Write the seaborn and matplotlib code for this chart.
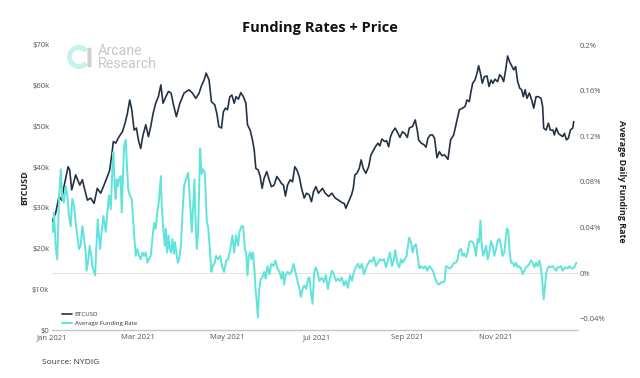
import numpy as np
import pandas as pd
import matplotlib
matplotlib.use("Agg")
import matplotlib.pyplot as plt
import matplotlib.dates as mdates
from matplotlib.patches import Arc, FancyBboxPatch
from matplotlib.lines import Line2D
import seaborn as sns

# ---------------- data ----------------
start_date = "2021-01-01"

# BTCUSD price: day offset from start_date, price in USD thousands
price_days = [
    0, 2.5, 4.8, 6.6, 8.2, 11, 12.1, 13.5, 16.2, 19,
    20.8, 21.9, 24.2, 26.5, 28.8, 31, 33.3, 35.6, 37.9, 39.5,
    40.9, 42, 43.6, 45.9, 48.2, 50, 51.6, 53.2, 54.6, 56.2,
    57.8, 59.1, 60.7, 62.3, 64.2, 66, 67.6, 69.2, 71, 72.8,
    74.5, 76, 77.9, 79.7, 81.5, 82.9, 85.1, 87.5, 90.4,
    93.8, 96.1, 98.4, 100.7, 102.3, 104.1, 105.5, 107.5, 109.1, 111.4,
    112.8, 114.2, 116, 117.3, 118.7, 120.1, 121.7, 123.1, 124.7, 126,
    127.6, 129.2, 131, 132.7, 133.8, 135.6, 137.2, 138.4, 139.5, 141.1,
    142.5, 143.8, 145.2, 147, 148.6, 150.2, 152, 153.9, 155.5, 157,
    158.4, 159.8, 161.2, 163, 164.6, 166.2, 167.6, 169.2, 170.8, 172.6,
    174.2, 176, 177.6, 179, 180.6, 182.4,
    185.1, 187, 189.3, 191.6, 193.8, 196.1, 198.4, 200, 201.1, 203,
    205, 206.2, 207.3, 208.7, 210.3, 211.6, 213, 214.8, 216.7, 218.3,
    220.1, 221.7, 223.1, 224.4, 225.8, 227.6, 229, 230.4, 231.7, 233.1,
    234.9, 236.8, 238.1, 239.9, 241.6, 243.2, 244.5, 246.8, 248.6, 250,
    250.9, 252.7, 254.6, 256, 257.3, 258.9, 260.5, 261.8, 263.5, 265.1,
    266.9, 268.7, 271, 272.8, 274.9,
    277.2, 278.8, 281, 282.7, 284, 285.6, 286.8, 287.9, 289.5, 290.9,
    292, 293.2, 294.5, 295.9, 297.7, 299.1, 300.5, 301.8, 303.2, 305,
    306.4, 307.7, 309.1, 310.5, 311.8, 313.2, 314.6, 316, 317.3, 318.7,
    320.1, 321.4, 322.6, 323.8, 325.1, 326.7, 328.3, 329.7, 331.3, 332.9,
    334.7, 335.8, 336.5, 338.2, 339.7, 341.1, 342.9, 343.8, 345.2, 346.6,
    347.9, 349.5, 350.7, 352.1, 353.4, 354.8, 356.4, 357.1,
]
price_k = [
    26.6, 28.7, 32.8, 31.9, 35.2, 40.1, 39.3, 34.4, 38.1, 35.6,
    36.9, 35.2, 31.9, 32.4, 31.1, 34.8, 33.6, 35.6, 37.7, 39.3,
    43.0, 46.3, 45.9, 47.5, 48.7, 50.8, 53.2, 56.5, 54.1, 49.1,
    49.6, 46.7, 44.6, 47.9, 50.4, 47.5, 50.0, 53.2, 55.7, 57.3,
    60.2, 55.7, 57.3, 58.6, 58.2, 55.7, 52.4, 55.7, 58.2,
    59.0, 58.2, 56.9, 58.2, 60.0, 61.4, 63.1, 61.4, 56.1, 55.3,
    53.2, 50.0, 49.6, 53.6, 54.5, 54.1, 57.3, 57.7, 55.7, 57.3,
    56.7, 58.3, 57.3, 55.7, 50.4, 49.1, 46.7, 44.2, 39.7, 39.3,
    37.7, 34.8, 37.3, 38.9, 36.9, 35.2, 35.6, 37.7, 36.9, 36.0,
    35.6, 32.9, 35.6, 36.9, 36.4, 40.1, 39.3, 37.7, 34.8, 32.4,
    33.6, 33.2, 31.5, 34.0, 35.2, 33.6,
    34.8, 33.6, 32.8, 33.6, 32.4, 31.9, 31.3, 31.1, 29.9, 31.5,
    33.2, 34.8, 38.1, 38.5, 39.7, 41.8, 39.7, 38.5, 40.1, 43.0,
    44.2, 45.2, 45.9, 45.2, 46.9, 46.3, 46.5, 45.0, 47.5, 48.7,
    49.6, 48.3, 47.3, 48.7, 48.2, 47.3, 49.6, 50.0, 51.6, 49.1,
    46.7, 45.9, 45.5, 44.9, 47.1, 47.9, 47.9, 47.1, 42.3, 43.8,
    42.8, 43.0, 41.9, 46.7, 47.9,
    51.6, 54.1, 54.5, 54.9, 56.5, 56.1, 58.6, 60.6, 61.4, 63.1,
    64.9, 63.1, 60.6, 62.2, 62.4, 59.8, 61.4, 60.6, 61.6, 61.0,
    62.7, 62.2, 61.0, 63.9, 67.3, 65.9, 64.9, 63.9, 64.7, 61.0,
    59.4, 59.0, 57.3, 59.0, 56.9, 58.2, 56.5, 54.5, 57.3, 57.3,
    56.9, 54.9, 49.6, 49.1, 50.8, 49.1, 49.1, 47.9, 49.6, 48.3,
    47.9, 47.5, 48.3, 46.7, 47.1, 49.1, 49.6, 51.2,
]

# Average daily funding rate: day offset, rate in percent
funding_days = [
    0, 0.7, 1.4, 2.5, 3.6, 4.8, 6, 7.1, 8.2, 9.4,
    10.5, 11.6, 12.8, 13.9, 15.1, 16.2, 17.3, 18.5, 19.6, 20.8,
    21.9, 23.1, 23.7, 24.9, 25.8, 26.9, 27.6, 28.8, 29.5, 30.4,
    31.3, 32.2, 32.9, 34, 35.2, 36.8, 37.9, 39, 40.2, 41.3,
    42, 42.9, 43.6, 44.3, 45.2, 45.9, 47, 47.7, 48.6, 49.3,
    50.5, 51.2, 52.1, 53.2, 54.6, 55.5, 56.4, 57.3, 58.4, 59.6,
    60.7, 61.9, 63, 64.2, 65.3, 66.4, 67.6, 68.7, 69.9, 71,
    72.1, 73.3, 74.5, 75.1, 76, 77.2, 77.9, 78.8, 79.7, 80.6,
    81.5, 82.4, 83.4, 84.2, 85.1, 86.1, 87, 88.2, 89.2, 90.4,
    91.6, 93.2, 94, 95, 95.7, 96.6, 97.5, 98.2, 99.1, 100,
    100.7, 101.4, 102.3, 103.2, 104.6, 106, 106.8, 108.2, 109.1, 110.1,
    111.4, 112.3, 113.7, 115.1, 116.4, 117.8, 119.2, 120.5, 121.9, 123.5,
    124.7, 126, 127.4, 128.3, 129.7, 130.8, 132, 132.9, 133.8, 134.7,
    135.6, 136.5, 137.5, 138.4, 139.3, 140.2, 140.9, 141.8, 142.9, 144,
    145.2, 146.3, 147.5, 148.8, 150.2, 151.6, 152.9, 154.3, 155.7, 157,
    158, 158.9, 159.8, 161.2, 162.5, 163.9, 165.3, 166.6, 168, 169.4,
    170.3, 171.5, 172.6, 174, 175.3, 176.2, 177.2, 178.3, 179.5, 180.6,
    181.7,
    182.9, 184.7, 186.1, 187.5, 188.8, 190.2, 191.6, 192.9, 194.3, 195.7,
    197, 198.4, 199.8, 201.1, 202.5, 203.9, 205.3, 206.6, 208, 209.4,
    210.8, 212.1, 213.5, 214.8, 216.2, 217.6, 219, 220.3, 221.7, 223.1,
    224.4, 225.8, 227.2, 228.6, 229.9, 231.3, 232.7, 234, 234.9, 236.3,
    237.7, 238.8, 239.9, 241.3, 242.7, 243.6, 244.5, 245.7, 246.8, 248,
    249.1, 250.2, 251.4, 252.7, 254.1, 255.5, 256.8, 258.2, 259.6, 261,
    262.3, 263.7, 265.1, 266.4, 267.8, 268.7, 269.6, 271, 272.4, 273.8,
    275.2,
    276.5, 277.6, 278.8, 279.9, 281, 282.2, 283.3, 284.5, 285.6, 286.8,
    287.9, 289, 290.2, 291.3, 292.3, 293.2, 294, 295, 295.9, 297.1,
    298.2, 299.3, 300.5, 301.6, 302.7, 303.9, 305, 306.2, 307.3, 308.4,
    309.6, 310.7, 311.4, 312.3, 313.2, 314.2, 315.3, 316.4, 317.6, 318.7,
    319.9, 321, 322.1, 323.3, 324.4, 325.6, 326.7, 327.9, 329, 330.1,
    331.3, 332.4, 333.6, 334.7, 335.6, 336.5, 337.5, 338.4, 339.2, 340.4,
    341.6, 342.7, 343.8, 345, 346.1, 347.3, 348.4, 349.5, 350.7, 351.8,
    353, 354.1, 355.3, 356.4, 357.5, 358.9,
]
funding_pct = [
    0.044, 0.036, 0.053, 0.024, 0.012, 0.065, 0.091, 0.065, 0.062, 0.076,
    0.068, 0.050, 0.041, 0.065, 0.059, 0.044, 0.033, 0.021, 0.024, 0.041,
    0.030, 0.018, 0.002, 0.012, 0.024, 0.015, 0.006, 0.001, -0.002, 0.024,
    0.047, 0.033, 0.021, 0.036, 0.050, 0.036, 0.053, 0.068, 0.056, 0.091,
    0.106, 0.076, 0.065, 0.082, 0.076, 0.082, 0.085, 0.053, 0.085, 0.111,
    0.117, 0.097, 0.074, 0.068, 0.065, 0.047, 0.030, 0.015, 0.021, 0.015,
    0.012, 0.018, 0.015, 0.018, 0.009, 0.012, 0.015, 0.030, 0.044, 0.039,
    0.053, 0.065, 0.085, 0.059, 0.041, 0.024, 0.039, 0.018, 0.033, 0.021,
    0.018, 0.030, 0.017, 0.027, 0.018, 0.009, 0.012, 0.024, 0.050, 0.076,
    0.082, 0.088, 0.071, 0.050, 0.036, 0.059, 0.082, 0.047, 0.021, 0.036,
    0.071, 0.109, 0.087, 0.091, 0.088, 0.044, 0.041, 0.018, 0.001, 0.006,
    0.009, 0.015, 0.012, 0.015, 0.006, 0.001, 0.011, 0.012, 0.020, 0.033,
    0.018, 0.033, 0.024, 0.036, 0.041, 0.041, 0.021, 0.018, -0.002, 0.015,
    0.018, 0.012, 0.018, 0.006, -0.014, -0.026, -0.039, -0.014, -0.005, -0.004,
    0.001, -0.005, 0.006, -0.001, 0.008, 0.006, 0.011, 0.004, 0.001, -0.005,
    0.001, -0.010, -0.002, 0.001, -0.001, 0.001, 0.008, 0.001, -0.007, -0.014,
    -0.021, -0.014, -0.011, -0.014, -0.005, -0.004, -0.017, -0.027, 0.001, 0.005,
    0.001,
    -0.007, -0.004, -0.008, -0.002, -0.014, -0.005, 0.002, -0.001, -0.007, -0.005,
    -0.007, -0.004, -0.011, -0.007, -0.013, -0.002, -0.007, 0.001, 0.005, 0.008,
    0.004, 0.008, -0.001, 0.004, 0.008, 0.011, 0.010, 0.014, 0.006, 0.009,
    0.012, 0.011, 0.012, 0.005, 0.011, 0.018, 0.006, 0.012, 0.020, 0.009,
    0.005, 0.012, 0.009, 0.012, 0.015, 0.024, 0.031, 0.027, 0.018, 0.024,
    0.025, 0.015, 0.004, 0.006, 0.004, 0.006, 0.002, 0.006, 0.004, 0.001,
    -0.005, -0.009, -0.010, -0.008, -0.008, -0.007, 0.006, 0.005, 0.004, 0.006,
    0.009,
    0.009, 0.012, 0.020, 0.021, 0.015, 0.017, 0.014, 0.018, 0.027, 0.028,
    0.027, 0.024, 0.015, 0.030, 0.027, 0.046, 0.027, 0.015, 0.018, 0.024,
    0.012, 0.018, 0.028, 0.024, 0.015, 0.021, 0.028, 0.030, 0.024, 0.015,
    0.018, 0.033, 0.039, 0.037, 0.018, 0.009, 0.009, 0.006, 0.009, 0.005,
    0.006, 0.004, -0.001, 0.002, 0.005, 0.006, 0.008, 0.011, 0.009, 0.005,
    0.009, 0.006, 0.011, 0.004, -0.008, -0.023, -0.010, 0.001, 0.004, 0.006,
    0.005, 0.006, 0.004, 0.002, 0.005, 0.005, 0.006, 0.002, 0.004, 0.005,
    0.004, 0.006, 0.004, 0.004, 0.005, 0.009,
]

price_ticks_k = [0, 10, 20, 30, 40, 50, 60, 70]
funding_ticks = [-0.04, 0, 0.04, 0.08, 0.12, 0.16, 0.2]
month_ticks = ["2021-01-01", "2021-03-01", "2021-05-01", "2021-07-01", "2021-09-01", "2021-11-01"]

# ---------------- build frames ----------------
base = pd.Timestamp(start_date)
price_df = pd.DataFrame({
    "date": base + pd.to_timedelta(np.array(price_days), unit="D"),
    "BTCUSD": np.array(price_k) * 1000.0,
})
fund_df = pd.DataFrame({
    "date": base + pd.to_timedelta(np.array(funding_days), unit="D"),
    "rate": funding_pct,
})

# ---------------- style ----------------
sns.set_theme(style="white")
plt.rcParams["font.family"] = ["Open Sans", "DejaVu Sans"]

PRICE_C = "#253246"
FUND_C = "#5fe3da"
TICK_C = "#555555"

fig = plt.figure(figsize=(6.4, 3.78), dpi=100)
ax = fig.add_axes([52 / 640, 1 - 330 / 378, 526 / 640, 285 / 378])
ax2 = ax.twinx()

sns.lineplot(data=price_df, x="date", y="BTCUSD", ax=ax, color=PRICE_C,
             linewidth=1.2, sort=False, legend=False)
ax2.axhline(0, color="#e3e3e3", linewidth=0.8, zorder=0)
sns.lineplot(data=fund_df, x="date", y="rate", ax=ax2, color=FUND_C,
             linewidth=1.4, sort=False, legend=False)

# left axis
ax.set_ylim(0, 70000)
ax.set_yticks([v * 1000 for v in price_ticks_k])
ax.set_yticklabels(["$0"] + [f"${v}k" for v in price_ticks_k[1:]])
# right axis
ax2.set_ylim(-0.05, 0.2)
ax2.set_yticks(funding_ticks)
ax2.set_yticklabels([("\u22120.04%" if v < 0 else ("0%" if v == 0 else f"{v:g}%")) for v in funding_ticks])

# x axis
ax.set_xlim(base, base + pd.Timedelta(days=360))
ax.set_xticks(pd.to_datetime(month_ticks))
ax.xaxis.set_major_formatter(mdates.DateFormatter("%b %Y"))
ax.set_xlabel("")

for a in (ax, ax2):
    a.tick_params(axis="both", length=0, labelsize=5.5, colors=TICK_C, pad=2)
    for s in a.spines.values():
        s.set_visible(False)
ax.spines["bottom"].set_visible(True)
ax.spines["bottom"].set_color("#c6c6c6")
ax.spines["bottom"].set_linewidth(1.0)
ax.tick_params(axis="x", pad=3)
ax2.tick_params(axis="y", pad=1)

ax.set_ylabel("BTCUSD", fontsize=6.5, fontweight="bold", color="#222222")
ax.yaxis.set_label_coords(-0.051, 0.5)
ax.yaxis.label.set_verticalalignment("center")
ax2.set_ylabel("Average Daily Funding Rate", fontsize=6.5, fontweight="bold",
               color="#222222", rotation=270)
ax2.yaxis.set_label_coords(1.083, 0.52)
ax2.yaxis.label.set_verticalalignment("center")
ax2.yaxis.label.set_horizontalalignment("center")

# legend
handles = [Line2D([], [], color=PRICE_C, linewidth=1.2),
           Line2D([], [], color=FUND_C, linewidth=1.4)]
ax2.legend(handles, ["BTCUSD", "Average Funding Rate"], loc="lower left",
           bbox_to_anchor=(0.012, 0.0), frameon=False, fontsize=4.4,
           handlelength=1.7, handletextpad=0.4, labelspacing=0.6,
           borderaxespad=0.2, labelcolor="#333333")

# title and source
fig.text(0.5, 1 - 28 / 378, "Funding Rates + Price", ha="center", va="center",
         fontsize=10.5, fontweight="bold", color="#111111")
fig.text(42 / 640, 1 - 362 / 378, "Source: NYDIG", ha="left", va="center",
         fontsize=6.0, color="#333333")

# Arcane Research watermark
W, H = 640, 378
fig.text(98 / W, 1 - 51 / H, "Arcane", ha="left", va="center", fontsize=10.3,
         color="#c8c8c8", family=["Roboto", "DejaVu Sans"])
fig.text(98 / W, 1 - 64 / H, "Research", ha="left", va="center", fontsize=10.3,
         color="#c8c8c8", family=["Roboto", "DejaVu Sans"])
ring = Arc((79 / W, 1 - 57 / H), 19 / W, 19 / H, theta1=55, theta2=305,
           transform=fig.transFigure, color="#c6f2ef", linewidth=3.6)
fig.add_artist(ring)
bar = FancyBboxPatch((87.5 / W, 1 - 67.5 / H), 4 / W, 20 / H,
                     boxstyle="round,pad=0,rounding_size=0.004",
                     transform=fig.transFigure, facecolor="#d0d0d0",
                     edgecolor="none")
fig.add_artist(bar)

fig.savefig("out.png", dpi=100)
